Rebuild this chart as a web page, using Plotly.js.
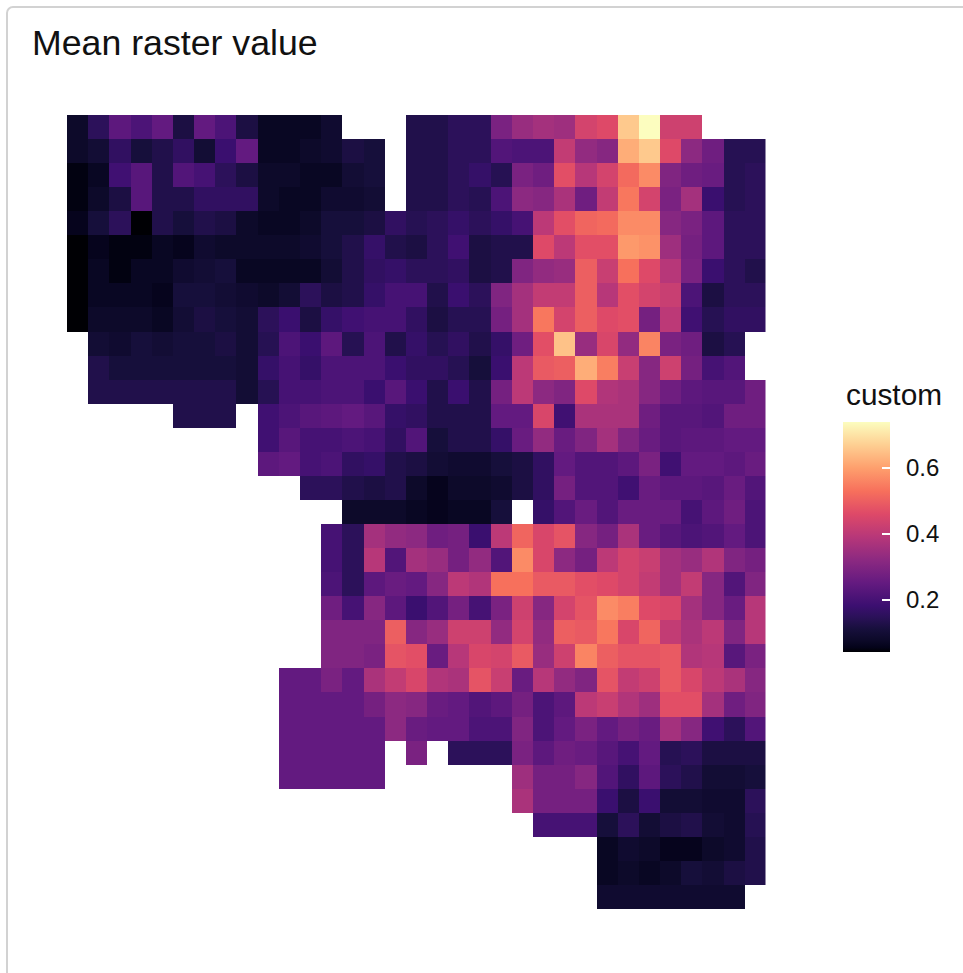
<!DOCTYPE html>
<html>
<head>
<meta charset="utf-8">
<script src="https://cdn.plot.ly/plotly-3.0.1.min.js"></script>
<style>
html,body{margin:0;padding:0;background:#fff;overflow:hidden;width:963px;height:973px}
#card{position:absolute;left:6px;top:6px;width:1000px;height:1000px;border:2px solid #d2d2d2;border-radius:7px;box-sizing:border-box}
#plot{position:absolute;left:0;top:0;width:963px;height:973px}
</style>
</head>
<body>
<div id="card"></div>
<div id="plot"></div>
<script>
const _ = null;
const chartTitle = "Mean raster value";
const legendTitle = "custom";
const tickValues = [0.2, 0.4, 0.6];
const tickLabels = ["0.2", "0.4", "0.6"];
const valueMin = 0.042;
const valueMax = 0.739;

const magma = [
  [0.0,"#000004"],[0.02,"#04031a"],[0.05,"#0c0928"],[0.1,"#170f3c"],[0.15,"#2a1158"],[0.2,"#3b0f70"],[0.3,"#641a80"],[0.4,"#8c2981"],
  [0.5,"#b73779"],[0.6,"#de4968"],[0.7,"#f7705c"],[0.8,"#fe9f6d"],[0.9,"#fecf92"],[1.0,"#fcfdbf"]
];

const row00 = [.08,.15,.24,.21,.25,.12,.25,.21,.12,.07,.07,.07,.09,_,_,_,.13,.13,.15,.15,.29,.34,.36,.35,.44,.46,.66,.74,.43,.43,_,_,_];
const row01 = [.08,.10,.16,.11,.13,.16,.10,.18,.25,.07,.07,.08,.09,.12,.11,_,.13,.13,.15,.15,.22,.21,.21,.41,.33,.31,.62,.66,.46,.32,.27,.14,.14];
const row02 = [.05,.07,.19,.23,.13,.22,.20,.15,.12,.08,.08,.07,.07,.10,.11,_,.13,.13,.15,.17,.14,.29,.27,.47,.39,.44,.52,.57,.30,.27,.26,.14,.15];
const row03 = [.05,.08,.12,.23,.13,.13,.16,.16,.16,.08,.07,.07,.09,.09,.10,_,.13,.13,.15,.14,.21,.32,.31,.37,.27,.41,.54,.44,.29,.36,.18,.14,.15];
const row04 = [.06,.11,.15,.04,.13,.11,.13,.12,.08,.07,.07,.08,.11,.11,.12,.16,.14,.15,.17,.15,.17,.20,.40,.47,.51,.52,.57,.57,.31,.29,.24,.15,.15];
const row05 = [.04,.06,.05,.05,.07,.06,.09,.08,.08,.08,.08,.09,.11,.13,.17,.13,.12,.15,.19,.12,.13,.13,.46,.40,.47,.47,.59,.58,.35,.28,.24,.15,.15];
const row06 = [.04,.07,.05,.07,.07,.09,.10,.11,.07,.07,.07,.07,.10,.13,.16,.17,.15,.15,.16,.12,.13,.30,.33,.34,.50,.42,.53,.46,.39,.29,.18,.15,.13];
const row07 = [.04,.07,.07,.07,.06,.11,.11,.10,.09,.08,.10,.15,.12,.13,.17,.20,.20,.13,.18,.15,.30,.36,.41,.41,.50,.39,.47,.44,.42,.21,.12,.15,.15];
const row08 = [.04,.08,.08,.08,.07,.10,.12,.11,.10,.15,.18,.12,.17,.19,.20,.20,.16,.12,.14,.14,.28,.36,.54,.44,.50,.46,.47,.28,.40,.19,.14,.16,.16];
const row09 = [_,.10,.09,.11,.10,.11,.11,.12,.10,.14,.21,.18,.24,.14,.21,.13,.17,.14,.16,.13,.17,.27,.47,.65,.34,.45,.33,.56,.29,.27,.12,.14,_];
const row10 = [_,.13,.11,.11,.11,.11,.11,.11,.10,.17,.20,.17,.21,.21,.21,.18,.16,.16,.14,.11,.18,.40,.49,.50,.62,.55,.42,.31,.43,.28,.20,.22,_];
const row11 = [_,.13,.13,.13,.13,.13,.13,.13,.10,.14,.20,.20,.21,.21,.18,.23,.18,.13,.18,.13,.28,.40,.32,.30,.46,.38,.37,.31,.27,.24,.23,.23,.27];
const row12 = [_,_,_,_,_,.13,.13,.13,_,.19,.21,.23,.24,.25,.23,.17,.16,.13,.13,.13,.25,.25,.45,.19,.37,.37,.37,.27,.23,.23,.22,.27,.27];
const row13 = [_,_,_,_,_,_,_,_,_,.19,.23,.20,.20,.21,.20,.16,.22,.11,.13,.13,.17,.26,.33,.26,.30,.36,.30,.26,.23,.24,.24,.25,.25];
const row14 = [_,_,_,_,_,_,_,_,_,.24,.25,.20,.21,.16,.17,.13,.12,.10,.09,.09,.11,.12,.16,.25,.22,.22,.24,.29,.19,.25,.25,.24,.26];
const row15 = [_,_,_,_,_,_,_,_,_,_,_,.15,.15,.13,.12,.13,.08,.06,.08,.08,.09,.12,.16,.28,.22,.22,.19,.26,.24,.24,.23,.26,.22];
const row16 = [_,_,_,_,_,_,_,_,_,_,_,_,_,.08,.08,.08,.07,.06,.07,.07,.11,_,.17,.22,.26,.22,.26,.26,.26,.20,.24,.27,.21];
const row17 = [_,_,_,_,_,_,_,_,_,_,_,_,.20,.15,.36,.33,.32,.27,.28,.18,.40,.51,.45,.48,.31,.28,.37,.26,.23,.21,.22,.25,.21];
const row18 = [_,_,_,_,_,_,_,_,_,_,_,_,.20,.15,.39,.22,.36,.34,.28,.33,.22,.57,.45,.32,.28,.40,.44,.42,.36,.34,.38,.30,.28];
const row19 = [_,_,_,_,_,_,_,_,_,_,_,_,.21,.15,.24,.26,.25,.31,.40,.38,.53,.53,.49,.49,.47,.46,.44,.41,.36,.41,.31,.22,.30];
const row20 = [_,_,_,_,_,_,_,_,_,_,_,_,.27,.20,.31,.24,.18,.22,.28,.20,.29,.43,.31,.44,.48,.57,.55,.46,.45,.36,.31,.26,.39];
const row21 = [_,_,_,_,_,_,_,_,_,_,_,_,.30,.30,.30,.50,.31,.34,.43,.43,.33,.44,.33,.50,.49,.54,.45,.51,.41,.37,.40,.30,.39];
const row22 = [_,_,_,_,_,_,_,_,_,_,_,_,.30,.30,.29,.48,.47,.26,.39,.45,.44,.49,.34,.43,.56,.50,.48,.48,.49,.38,.39,.23,.29];
const row23 = [_,_,_,_,_,_,_,_,_,_,.25,.25,.29,.25,.37,.41,.45,.38,.37,.48,.42,.26,.39,.33,.30,.48,.41,.43,.49,.45,.40,.37,.31];
const row24 = [_,_,_,_,_,_,_,_,_,_,.25,.25,.25,.25,.28,.32,.31,.26,.25,.22,.24,.28,.21,.24,.40,.42,.38,.35,.47,.47,.36,.27,.30];
const row25 = [_,_,_,_,_,_,_,_,_,_,.25,.25,.25,.25,.25,.32,.26,.25,.25,.21,.21,.30,.21,.25,.29,.25,.28,.26,.36,.31,.19,.15,.22];
const row26 = [_,_,_,_,_,_,_,_,_,_,.25,.25,.25,.25,.25,_,.29,_,.15,.15,.15,.29,.24,.27,.26,.23,.20,.25,.14,.15,.12,.12,.12];
const row27 = [_,_,_,_,_,_,_,_,_,_,.25,.25,.25,.25,.25,_,_,_,_,_,_,.35,.28,.28,.31,.22,.16,.24,.15,.13,.10,.10,.11];
const row28 = [_,_,_,_,_,_,_,_,_,_,_,_,_,_,_,_,_,_,_,_,_,.37,.28,.28,.28,.18,.12,.18,.10,.10,.09,.09,.15];
const row29 = [_,_,_,_,_,_,_,_,_,_,_,_,_,_,_,_,_,_,_,_,_,_,.20,.20,.20,.11,.15,.10,.12,.13,.10,.09,.14];
const row30 = [_,_,_,_,_,_,_,_,_,_,_,_,_,_,_,_,_,_,_,_,_,_,_,_,_,.07,.09,.08,.06,.06,.08,.09,.13];
const row31 = [_,_,_,_,_,_,_,_,_,_,_,_,_,_,_,_,_,_,_,_,_,_,_,_,_,.07,.08,.07,.08,.11,.10,.12,.13];
const row32 = [_,_,_,_,_,_,_,_,_,_,_,_,_,_,_,_,_,_,_,_,_,_,_,_,_,.09,.09,.09,.09,.09,.09,.09,_];

const grid = [row00,row01,row02,row03,row04,row05,row06,row07,row08,row09,row10,
  row11,row12,row13,row14,row15,row16,row17,row18,row19,row20,row21,row22,
  row23,row24,row25,row26,row27,row28,row29,row30,row31,row32];

const W = 963, H = 973;
const barLeft = 843, barWidth = 47, barTop = 422, barBottom = 652, barTickLen = 8;
const barY = v => (H - barBottom + (v - valueMin) / (valueMax - valueMin) * (barBottom - barTop)) / H;

const trace = {
  type: "heatmap",
  z: grid,
  colorscale: magma,
  zmin: valueMin,
  zmax: valueMax,
  xgap: 0, ygap: 0,
  hoverongaps: false,
  colorbar: {
    x: barLeft / W, xanchor: "left", xpad: 0,
    y: (H - barBottom) / H, yanchor: "bottom", ypad: 0,
    len: barBottom - barTop, lenmode: "pixels",
    thickness: barWidth, thicknessmode: "pixels",
    outlinewidth: 0, borderwidth: 0,
    tickmode: "array", tickvals: tickValues, ticktext: tickLabels.map(t => "\u00a0\u2006" + t),
    ticks: "inside", ticklen: barTickLen, tickcolor: "#ffffff", tickwidth: 1.5,
    tickfont: {family: "Liberation Sans, Arial, sans-serif", size: 24, color: "#111111"}
  }
};

const leftTicks = tickValues.map(v => ({
  type: "line", xref: "paper", yref: "paper", layer: "above",
  x0: barLeft / W, x1: (barLeft + barTickLen) / W,
  y0: barY(v), y1: barY(v),
  line: {color: "#ffffff", width: 1.5}
}));

const layout = {
  width: W, height: H,
  margin: {l: 0, r: 0, t: 0, b: 0, pad: 0},
  paper_bgcolor: "rgba(0,0,0,0)",
  plot_bgcolor: "rgba(0,0,0,0)",
  title: {
    text: chartTitle,
    x: 32 / W, xanchor: "left", xref: "paper",
    y: 1 - 43 / H, yanchor: "middle", yref: "paper",
    font: {family: "Liberation Sans, Arial, sans-serif", size: 35.7, color: "#111111"}
  },
  xaxis: {domain: [67 / W, 765.5 / W], range: [-0.5, 32.5], visible: false, fixedrange: true},
  yaxis: {domain: [1 - 909 / H, 1 - 115 / H], range: [32.5, -0.5], visible: false, fixedrange: true},
  shapes: leftTicks,
  annotations: [{
    text: legendTitle, showarrow: false,
    xref: "paper", yref: "paper",
    x: 844 / W, xanchor: "left",
    y: 1 - 394 / H, yanchor: "middle",
    font: {family: "Liberation Sans, Arial, sans-serif", size: 29.8, color: "#111111"}
  }]
};

Plotly.newPlot("plot", [trace], layout, {displayModeBar: false, staticPlot: true});
</script>
</body>
</html>
